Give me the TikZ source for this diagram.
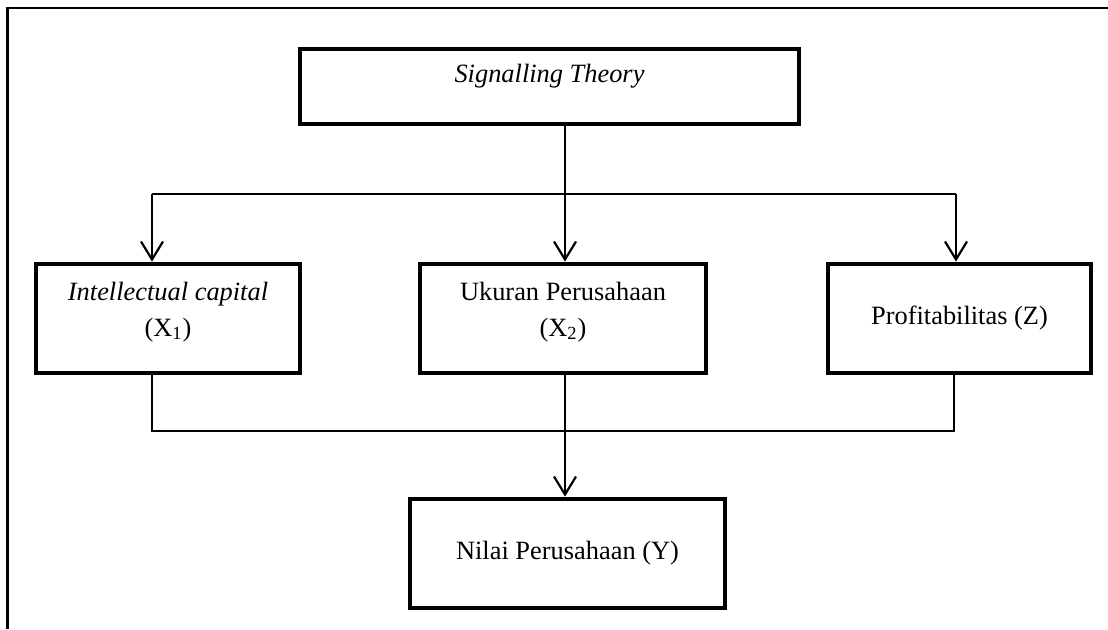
\documentclass[tikz,border=0pt]{standalone}
\usepackage{fontspec}
\setmainfont{Liberation Serif}
\usetikzlibrary{arrows.meta, positioning, calc}
\begin{document}
\begin{tikzpicture}[x=0.5pt, y=-0.5pt,
    box/.style={draw, line width=2.4pt, inner sep=0pt, align=center,
      font=\fontsize{13.2}{18}\selectfont},
    link/.style={line width=1.1pt},
    arr/.style={line width=1.1pt, -{Straight Barb[length=9pt, width=11pt]}}]
  \useasboundingbox (0,0) rectangle (1108,629);
  \draw[line width=1.4pt] (1108,8) -- (7.5,8) -- (7.5,629);

  \node[box, minimum width=249.5pt, text height=16.5pt, text depth=21pt] (theory) at (549.5,86.5) {\textit{Signalling Theory}};
  \node[box, minimum width=132pt, text height=36pt, text depth=18.5pt] (xone) at (168,318.5) {\textit{Intellectual capital}\\(X\textsubscript{1})};
  \node[box, minimum width=143pt, text height=36pt, text depth=18.5pt] (xtwo) at (563,318.5) {Ukuran Perusahaan\\(X\textsubscript{2})};
  \node[box, minimum width=131.5pt, minimum height=54.5pt] (prof) at (959.5,318.5) {Profitabilitas (Z)};
  \node[box, minimum width=157.5pt, minimum height=54.5pt] (nilai) at (567.5,553.5) {Nilai Perusahaan (Y)};

  \coordinate (split) at (565,194);
  \coordinate (left) at (152,194);
  \coordinate (right) at (956,194);
  \coordinate (join) at (565,431);
  \coordinate (joinleft) at (152,431);
  \coordinate (joinright) at (954,431);

  \draw[link] (split |- theory.south) -- (split);
  \draw[link] (left) -- (right);
  \draw[arr] (left) -- (left |- xone.north);
  \draw[arr] (split) -- (split |- xtwo.north);
  \draw[arr] (right) -- (right |- prof.north);
  \draw[link] (joinleft |- xone.south) -- (joinleft) -- (joinright) -- (joinright |- prof.south);
  \draw[link] (join |- xtwo.south) -- (join);
  \draw[arr] (join) -- (join |- nilai.north);
\end{tikzpicture}
\end{document}
